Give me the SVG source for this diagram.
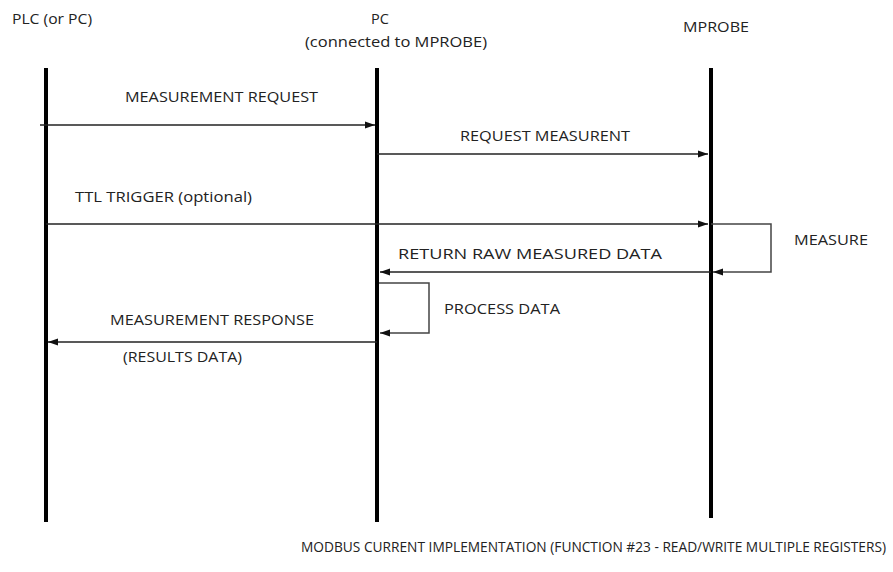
<svg xmlns="http://www.w3.org/2000/svg" width="893" height="572" viewBox="0 0 893 572">
<style>
text{font-family:"Open Sans","Liberation Sans",Arial,sans-serif;font-size:14.5px;fill:#222}
.life{stroke:#000;stroke-width:4;fill:none}
.msg{stroke:#222;stroke-width:1.3;fill:none}
.loop{stroke:#444;stroke-width:1.5;fill:none}
</style>
<defs>
<marker id="ah" viewBox="0 0 10 10" refX="10" refY="5" markerWidth="10" markerHeight="10" markerUnits="userSpaceOnUse" orient="auto">
<path d="M0,1.5 L10,5 L0,8.5 Z" fill="#111"/>
</marker>
</defs>
<rect width="893" height="572" fill="#fff"/>
<g id="plc">
<line class="life" x1="46" y1="68" x2="46" y2="522"/>
<text x="12" y="24" textLength="80" lengthAdjust="spacingAndGlyphs">PLC (or PC)</text>
</g>
<g id="pc">
<line class="life" x1="377" y1="68" x2="377" y2="522"/>
<text x="380" y="24" text-anchor="middle">PC</text>
<text x="305" y="47" textLength="182" lengthAdjust="spacingAndGlyphs">(connected to MPROBE)</text>
</g>
<g id="mprobe">
<line class="life" x1="711" y1="68" x2="711" y2="518"/>
<text x="683" y="32" textLength="66" lengthAdjust="spacingAndGlyphs">MPROBE</text>
</g>
<g id="connectors">
<line class="msg" x1="40" y1="125" x2="375" y2="125" marker-end="url(#ah)"/>
<line class="msg" x1="377" y1="154" x2="708" y2="154" marker-end="url(#ah)"/>
<line class="msg" x1="46" y1="224" x2="708" y2="224" marker-end="url(#ah)"/>
<polyline class="loop" points="711,224 771,224 771,272 713,272" marker-end="url(#ah)"/>
<line class="msg" x1="711" y1="272" x2="380" y2="272" marker-end="url(#ah)"/>
<polyline class="loop" points="379,283 429,283 429,333 380,333" marker-end="url(#ah)"/>
<line class="msg" x1="377" y1="342" x2="48" y2="342" marker-end="url(#ah)"/>
</g>
<g id="labels">
<text x="125" y="102" textLength="193" lengthAdjust="spacingAndGlyphs">MEASUREMENT REQUEST</text>
<text x="460" y="141" textLength="170" lengthAdjust="spacingAndGlyphs">REQUEST MEASURENT</text>
<text x="75" y="202" textLength="177" lengthAdjust="spacingAndGlyphs">TTL TRIGGER (optional)</text>
<text x="794" y="245" textLength="74" lengthAdjust="spacingAndGlyphs">MEASURE</text>
<text x="398" y="259" textLength="264" lengthAdjust="spacingAndGlyphs">RETURN RAW MEASURED DATA</text>
<text x="444" y="314" textLength="116" lengthAdjust="spacingAndGlyphs">PROCESS DATA</text>
<text x="110" y="325" textLength="204" lengthAdjust="spacingAndGlyphs">MEASUREMENT RESPONSE</text>
<text x="123" y="362" textLength="119" lengthAdjust="spacingAndGlyphs">(RESULTS DATA)</text>
<text x="886" y="552" font-size="15" text-anchor="end" textLength="585" lengthAdjust="spacingAndGlyphs">MODBUS CURRENT IMPLEMENTATION (FUNCTION #23 - READ/WRITE MULTIPLE REGISTERS)</text>
</g>
</svg>
